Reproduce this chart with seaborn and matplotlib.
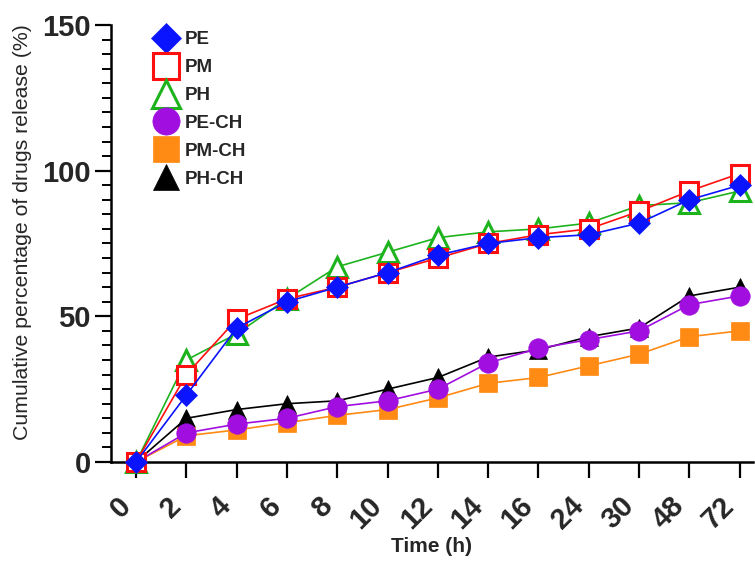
import seaborn as sns
import matplotlib.pyplot as plt
from matplotlib.lines import Line2D
from matplotlib.ticker import MultipleLocator
import matplotlib.transforms as mtransforms
import pandas as pd
import numpy as np

sns.set_style("ticks")
plt.rcParams['font.family'] = ['Liberation Sans', 'DejaVu Sans']

# Time points (categorical axis)
times = ["0", "2", "4", "6", "8", "10", "12", "14", "16", "24", "30", "48", "72"]

# Cumulative drug release (%)
pe = [0, 23, 46, 55, 60, 65, 71, 75, 77, 78, 82, 90, 95]
pm = [0, 30, 49, 56, 60, 65, 70, 75, 78, 80, 86, 93, 99]
ph = [0, 35, 44, 56, 67, 72, 77, 79, 80, 82, 88, 89, 93]
pe_ch = [0, 10, 13, 15, 19, 21, 25, 34, 39, 42, 45, 54, 57]
pm_ch = [0, 9, 11, 13.5, 16, 18, 22, 27, 29, 33, 37, 43, 45]
ph_ch = [0, 15, 18, 20, 21, 25, 29, 36, 38.5, 43, 46, 57, 60]

series = {"PE": pe, "PM": pm, "PH": ph, "PE-CH": pe_ch, "PM-CH": pm_ch, "PH-CH": ph_ch}

# style per series: color, marker, filled, size, zorder
styles = {
    "PE":    ("#0a14ff", "D", True, 11, 8),
    "PM":    ("#ff1010", "s", False, 13, 7),
    "PH":    ("#1db31d", "^", False, 14, 6),
    "PE-CH": ("#a00ee0", "o", True, 14, 5),
    "PM-CH": ("#ff8a14", "s", True, 13, 4),
    "PH-CH": ("#000000", "^", True, 13, 3),
}

pos = np.arange(len(times))
rows = []
for name, vals in series.items():
    for p, v in zip(pos, vals):
        rows.append({"pos": p, "release": v, "formulation": name})
df = pd.DataFrame(rows)

fig = plt.figure(figsize=(7.55, 5.61), dpi=100)
ax = fig.add_axes([0.147, 0.1765, 0.850, 0.779])

handles = []
for name in series:
    color, marker, filled, ms, z = styles[name]
    sub = df[df["formulation"] == name]
    sns.lineplot(data=sub, x="pos", y="release", ax=ax, color=color,
                 linewidth=1.2, marker=marker, markersize=ms,
                 markerfacecolor=color if filled else "white",
                 markeredgecolor=color, markeredgewidth=2.2 if not filled else 0.5,
                 zorder=z, legend=False)
    handles.append(Line2D([], [], linestyle="none", marker=marker, markersize=ms,
                          markerfacecolor=color if filled else "white",
                          markeredgecolor=color,
                          markeredgewidth=2.2 if not filled else 0.5, label=name))

for ln in ax.lines:
    ln.set_clip_on(False)

ax.set_xlim(-0.5, 12.26)
ax.set_ylim(0, 150)
ax.set_xticks(pos)
ax.set_xticklabels(times, rotation=45, ha="right", fontsize=21, fontweight="bold")
shift = mtransforms.ScaledTranslation(10 / 100, 0, fig.dpi_scale_trans)
for lbl in ax.get_xticklabels():
    lbl.set_transform(lbl.get_transform() + shift)
ax.set_yticks([0, 50, 100, 150])
ax.set_yticklabels(["0", "50", "100", "150"], fontsize=21, fontweight="bold")
ax.yaxis.set_minor_locator(MultipleLocator(5))
ax.tick_params(axis="both", which="major", length=11.5, width=1.6, color="black")
ax.tick_params(axis="x", which="major", pad=10)
ax.tick_params(axis="y", which="major", pad=3)
ax.tick_params(axis="y", which="minor", length=6.5, width=1.4, color="black")

for side in ["top", "right"]:
    ax.spines[side].set_visible(False)
for side in ["left", "bottom"]:
    ax.spines[side].set_linewidth(1.8)
    ax.spines[side].set_color("black")

ax.set_xlabel("Time (h)", fontsize=15, fontweight="bold", labelpad=2)
ax.set_ylabel("Cumulative percentage of drugs release (%)", fontsize=15.3)
ax.yaxis.set_label_coords(-0.123, 0.527)

leg = ax.legend(handles=handles, loc="upper left", bbox_to_anchor=(0.045, 1.024),
                frameon=False, markerscale=1.4, handlelength=1.0, handletextpad=0.5,
                labelspacing=0.57, prop={"weight": "bold", "size": 13.5})

plt.savefig("out.png", dpi=100)
plt.close()
